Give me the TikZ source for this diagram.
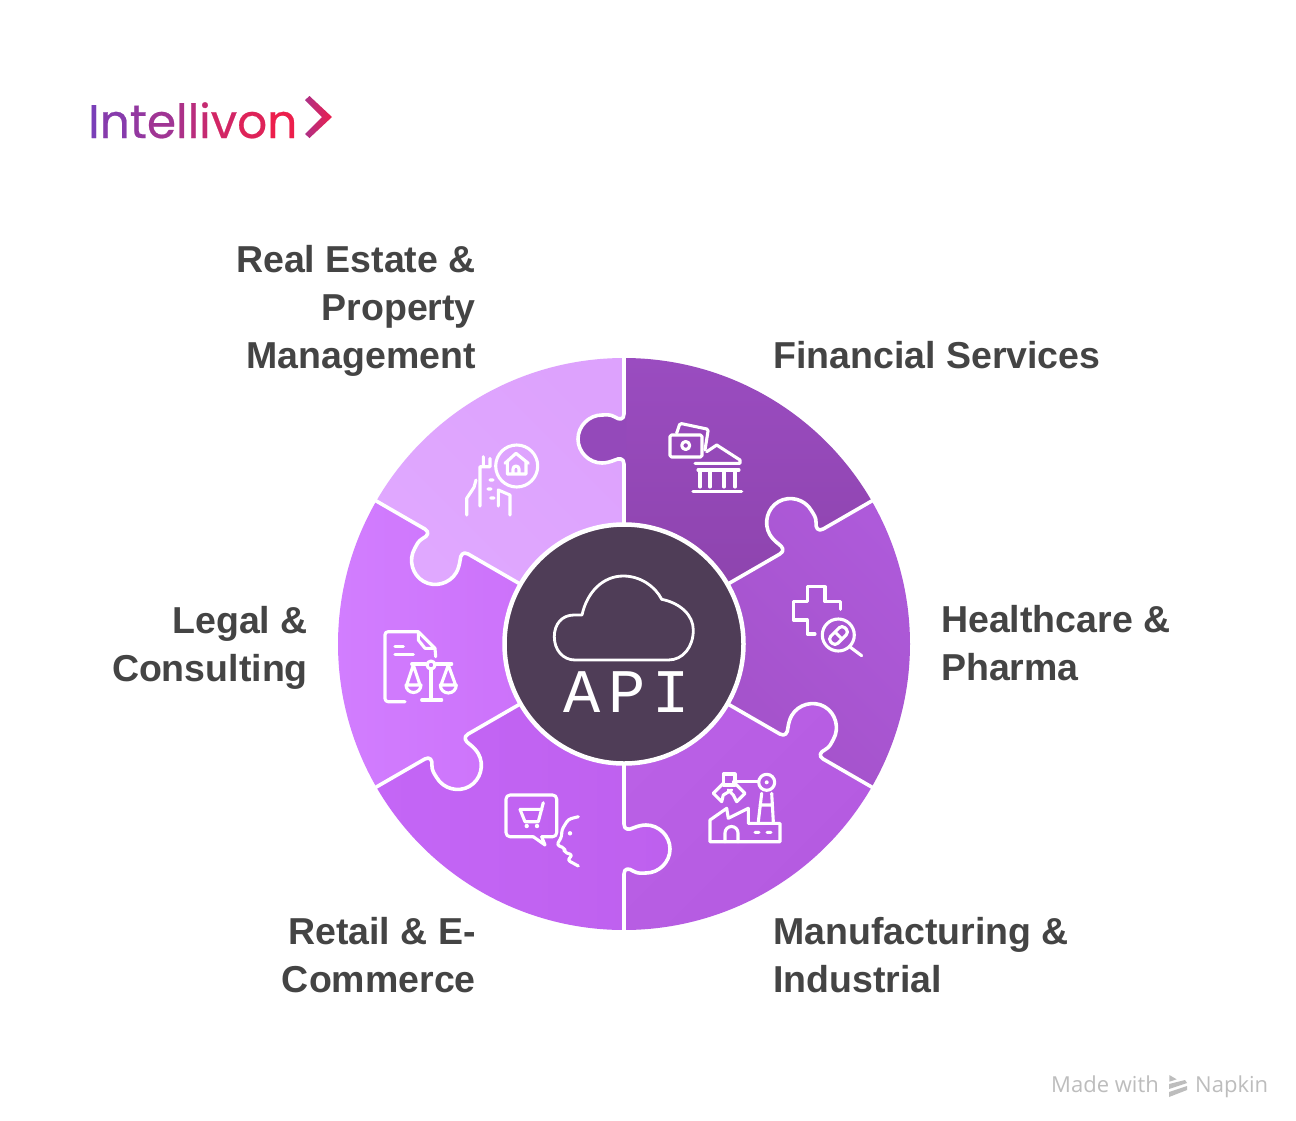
\documentclass[tikz,border=0pt]{standalone}
\usepackage{fontspec}
\setmainfont{Liberation Sans}
\newfontfamily\logofont[FakeBold=0.5]{Poppins}
\newfontfamily\markfont{Open Sans}
\newfontfamily\apifont[LetterSpace=12]{Liberation Mono}
\usetikzlibrary{positioning}
\definecolor{labelgray}{HTML}{444444}
\definecolor{markgray}{HTML}{BDBDBD}
\definecolor{hubdark}{HTML}{4F3D57}
\definecolor{logoa}{HTML}{7A3FB8}
\definecolor{logob}{HTML}{EC1F4C}
\definecolor{finknob}{HTML}{9449BA}
\newcommand{\logoch}[2]{{\color{logob!#1!logoa}#2}}
\def\knobedge{(0,-180) .. controls (0,-186) and (-5,-186) .. (-9,-184) .. controls (-14,-182) and (-18,-181) .. (-22,-181) .. controls (-35,-181) and (-46,-192) .. (-46,-205) .. controls (-46,-218) and (-35,-229) .. (-22,-229) .. controls (-18,-229) and (-14,-230) .. (-9,-227) .. controls (-5,-224) and (0,-224) .. (0,-230)}
\begin{document}
\begin{tikzpicture}[x=1pt, y=-1pt]
\tikzstyle{sector}=[font=\fontsize{37.5}{48}\selectfont\bfseries, text=labelgray, inner sep=0pt];
\tikzstyle{footmark}=[font=\markfont\fontsize{22}{26}\selectfont, text=markgray, inner sep=0pt];
\tikzstyle{icon}=[draw=white, line width=3.1pt, line cap=round, line join=round];
\useasboundingbox (0,0) rectangle (1296,1120);
\fill[white] (0,0) rectangle (1296,1120);
% puzzle ring
\begin{scope}[shift={(624,644)}]
\foreach \rot/\cola/\colb/\ang in {0/9A4CC0/8E44AE/0, 60/AE5ADA/A452CA/315, 120/BA60E6/B45AE0/45, 180/C466F6/BE60EE/90, 240/D27EFF/CC72FA/90, 300/E0A8FF/DDA2FD/135}
{
\definecolor{piecea}{HTML}{\cola}
\definecolor{pieceb}{HTML}{\colb}
\begin{scope}[rotate=-\rot]
\shade[left color=piecea, right color=pieceb, shading angle=\ang] (-90:115) -- (-90:286) arc[start angle=-90, end angle=-30, radius=286] -- (-30:115) arc[start angle=-30, end angle=-90, radius=115] -- cycle \knobedge -- (2,-230) -- (2,-180) -- cycle;
\end{scope}
}
\fill[finknob] \knobedge -- (2,-230) -- (2,-180) -- cycle;
\foreach \rot in {0,60,...,300}
{\draw[white, line width=3.6pt, line join=round, rotate=-\rot] (0,-115) -- \knobedge -- (0,-290);}
\filldraw[fill=hubdark, draw=white, line width=4.5pt] (0,0) circle[radius=119.5];
\end{scope}
% cloud
\draw[white, line width=2.8pt, line join=round] (575,660) .. controls (563,660) and (554.3,650) .. (554.3,636.7) .. controls (554.3,624) and (562,615) .. (574,615) -- (582,615) .. controls (587,592) and (603,576) .. (623.3,576) .. controls (640,576) and (655,586) .. (661.7,599.3) .. controls (680,603) and (693.3,615) .. (693.3,630) .. controls (693.3,647) and (683,660) .. (668.3,660) -- cycle;
% financial services
\draw[icon, rounded corners=1.5pt] (670,435) rectangle (702,457);
\draw[icon] (685.7,445.5) circle[radius=4];
\draw[icon, rounded corners=1.5pt] (676.7,433) -- (680,423.3) -- (708.3,429.3) -- (705,450);
\draw[icon] (706.7,451.7) -- (716.7,445) -- (740,460) -- (740,463.3) -- (695,463.3);
\draw[icon] (698,470) -- (739,470) (700,470) -- (700,487) (710,470) -- (710,487) (724,470) -- (724,487) (735,470) -- (735,487) (693,491.7) -- (741.7,491.7);
% real estate
\draw[icon] (516.7,466) circle[radius=21];
\draw[icon] (505,463.3) -- (516,453.3) -- (528.3,463.3) (507.3,461) -- (507.3,474) -- (526,474) -- (526,461) (513,474) -- (513,469) arc[start angle=180, end angle=360, radius=3] -- (519,474);
\draw[icon] (466.7,515) -- (466.7,498.3) -- (474,487.3) -- (476,480) (480,506) -- (480,466.7) -- (490,466.7) -- (490,458.3) (483.3,456.7) -- (483.3,466.7) (490,480) -- (493,480) (488,489) -- (491,489) (490.7,498) -- (494,498) (498.3,506) -- (498.3,490) -- (510,495) -- (510,515);
% healthcare
\draw[icon] (815,634) -- (807.3,634) -- (807.3,620) -- (793.3,620) -- (793.3,601.7) -- (807.3,601.7) -- (807.3,586.7) -- (825,586.7) -- (825,601.7) -- (840.7,601.7) -- (840.7,609.3);
\draw[icon] (838.3,635) circle[radius=16] (850,647) -- (861.7,655.7);
\draw[icon, rounded corners=4pt, rotate around={45:(838.5,635.5)}] (828.5,630.5) rectangle (848.5,640.5);
\draw[icon, rotate around={45:(838.5,635.5)}] (838.5,630.5) -- (838.5,640.5);
% manufacturing
\draw[icon] (710,841.7) -- (780,841.7) -- (780,823.3) -- (748.3,823.3) -- (748.3,808.3) -- (728.3,818.3) -- (726.7,808.3) -- (710,820) -- cycle;
\draw[icon] (725,841.7) -- (725,833) arc[start angle=180, end angle=360, radius=6.5] -- (738,841.7) (755,832.3) -- (759,832.3) (767,832.3) -- (771,832.3);
\draw[icon] (758.3,821.7) -- (761.7,793.3) (771.7,793.3) -- (773.3,821.7) (760,805) -- (772,805);
\draw[icon] (766.7,782.3) circle[radius=8];
\fill[white] (766.7,782.3) circle[radius=2];
\draw[icon] (735,781.7) -- (758.3,781.7);
\draw[icon] (723.3,774) rectangle (735,785);
\draw[icon] (723.3,783.3) -- (713.3,793.3) -- (721.7,801.7) -- (723.3,795) -- (731.7,790);
\draw[icon] (733.3,781.7) -- (745,793.3) -- (736.7,801.7) -- (733.3,795) -- (728.3,790);
% retail
\draw[icon, rounded corners=4pt] (541.7,836.7) -- (556.7,836.7) -- (556.7,795) -- (506,795) -- (506,836.7) -- (533.3,836.7);
\draw[icon] (533.3,836.7) -- (545,845) -- (541.7,836.7);
\draw[icon] (520,809.3) -- (542,809.3) (543.3,802.7) -- (538.3,821.7) -- (525,821.7) -- (520,809.3);
\fill[white] (526.7,826) circle[radius=2.2] (537,826) circle[radius=2.2] (570,833.3) circle[radius=2.2];
\draw[icon, rounded corners=3pt] (578.3,816.7) -- (568.3,819.3) -- (561.7,830) -- (561.7,836.7) -- (556.7,845) -- (565,848.3) -- (564,852) -- (572.7,855) -- (567.3,860) -- (578.3,866);
% legal
\draw[icon, rounded corners=3pt] (405,701.7) -- (385,701.7) -- (385,631.7) -- (418.3,631.7);
\draw[icon] (418.3,631.7) -- (435,648.3) -- (435.7,656.7) (418.3,631.7) -- (418.3,640) -- (425,648.3) -- (435,648.3);
\draw[icon] (395,646.7) -- (403.3,646.7) (395,654.3) -- (413.3,654.3);
\draw[icon] (431,665) circle[radius=4];
\draw[icon] (411.7,664) -- (426,664) (436,664) -- (451.7,664) (431,670) -- (431,700) (421.7,700) -- (441.7,700);
\draw[icon] (406.7,685) -- (413.3,665) -- (420,685) (406,685) arc[start angle=180, end angle=0, radius=7.5] -- cycle;
\draw[icon] (441,685) -- (448.3,665) -- (455.6,685) (440.3,685) arc[start angle=180, end angle=0, radius=8] -- cycle;
% labels
\node[sector, align=right, anchor=east] (realestate) at (476,311) {Real Estate \&\\Property\\Management};
\node[sector, align=left, anchor=west] (financial) at (773,355) {Financial Services};
\node[sector, align=left, anchor=west] (healthcare) at (941,643) {Healthcare \&\\Pharma};
\node[sector, align=left, anchor=west] (manufacturing) at (773,955) {Manufacturing \&\\Industrial};
\node[sector, align=right, anchor=east] (retail) at (476,955) {Retail \& E-\\Commerce};
\node[sector, align=right, anchor=east] (legal) at (308,647.5) {Legal \&\\Consulting};
\node[anchor=base, inner sep=0pt, text=white, font=\apifont\fontsize{62}{62}\selectfont] (api) at (627,712.7) {API};
% logo
\node[anchor=base west, inner sep=0pt, font=\logofont\fontsize{47}{47}\selectfont] (logo) at (88,138) {\logoch{0}{I}\logoch{11}{n}\logoch{22}{t}\logoch{33}{e}\logoch{44}{l}\logoch{55}{l}\logoch{66}{i}\logoch{77}{v}\logoch{88}{o}\logoch{100}{n}};
\shade[left color=logob!45!logoa, right color=logob] (305,100) -- (309.5,96) -- (332,117) -- (309.5,138) -- (305,134) -- (322,117) -- cycle;
% footer
\node[footmark, anchor=base west] (madewith) at (1051,1092) {Made with};
\node[footmark, anchor=base west] (napkin) at (1195,1092) {Napkin};
\fill[markgray] (1169.3,1075) -- (1176.7,1079.3) -- (1169.3,1081.7) -- cycle (1169,1084) -- (1185,1080) -- (1187,1083) -- (1169,1089) -- cycle (1169,1092) -- (1187,1086) -- (1187,1090) -- (1169,1097) -- cycle;
\end{tikzpicture}
\end{document}
